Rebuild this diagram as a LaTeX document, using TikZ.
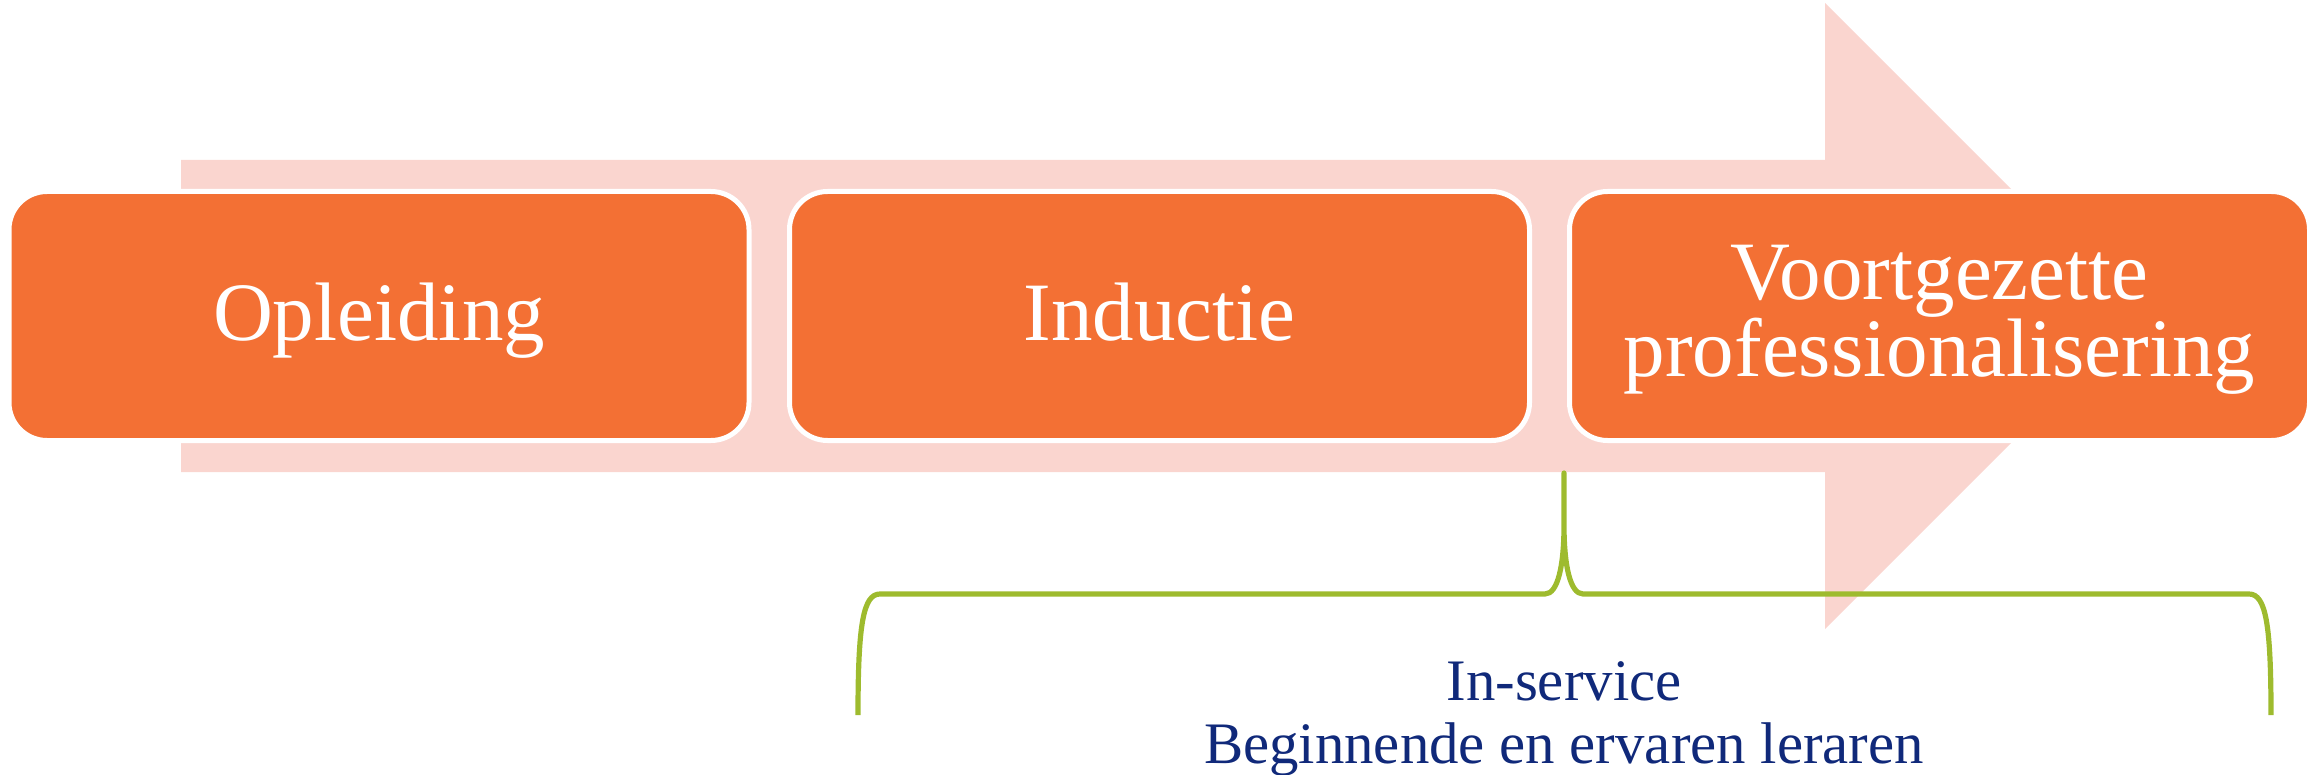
\documentclass[tikz,border=0pt]{standalone}
\usepackage{fontspec}
\setmainfont{Liberation Serif}
\definecolor{arrowpink}{RGB}{250,213,207}
\definecolor{boxorange}{RGB}{243,112,52}
\definecolor{bracegreen}{RGB}{158,187,46}
\definecolor{labelblue}{RGB}{16,41,122}
\tikzset{
  stagebox/.style={draw=white, line width=2.5pt, fill=boxorange, rounded corners=19pt,
    minimum width=370pt, minimum height=124.5pt, inner sep=0pt, text=white,
    font=\fontsize{41.5pt}{39pt}\selectfont, align=center,
    text height=33.2pt, text depth=9.1pt},
  bracelabel/.style={text=labelblue, font=\fontsize{29.4pt}{31.5pt}\selectfont, inner sep=0pt, anchor=base},
  bigarrow/.style={fill=arrowpink, draw=none},
  bracepath/.style={draw=bracegreen, line width=2.6pt, line join=round}
}
\begin{document}
\begin{tikzpicture}[x=0.5pt, y=-0.5pt]
\useasboundingbox (0,0) rectangle (2319,775);
% background arrow
\path[bigarrow] (181,160) -- (1825,160) -- (1825,3) -- (2138,316) -- (1825,629) -- (1825,472) -- (181,472) -- cycle;
% stage boxes
\node[stagebox] (opl) at (379,316) {Opleiding};
\node[stagebox] (ind) at (1159.5,316) {Inductie};
\node[stagebox, text height=70.1pt] (vp) at (1939.5,316) {Voortgezette\\professionalisering};
% brace
\coordinate (bl) at (858,715);
\coordinate (br) at (2271,715);
\coordinate (bt) at (1564,473);
\draw[bracepath] (bl) .. controls (858,625) and (863,594) .. (880,594) -- (1545,594)
  .. controls (1558,594) and (1564,565) .. (1564,525) -- (bt) -- (1564,525)
  .. controls (1564,565) and (1570,594) .. (1583,594) -- (2249,594)
  .. controls (2266,594) and (2271,625) .. (br);
% labels
\node[bracelabel] (lbla) at (1564,700) {In-service};
\node[bracelabel] (lblb) at (1564,763) {Beginnende en ervaren leraren};
\end{tikzpicture}
\end{document}
